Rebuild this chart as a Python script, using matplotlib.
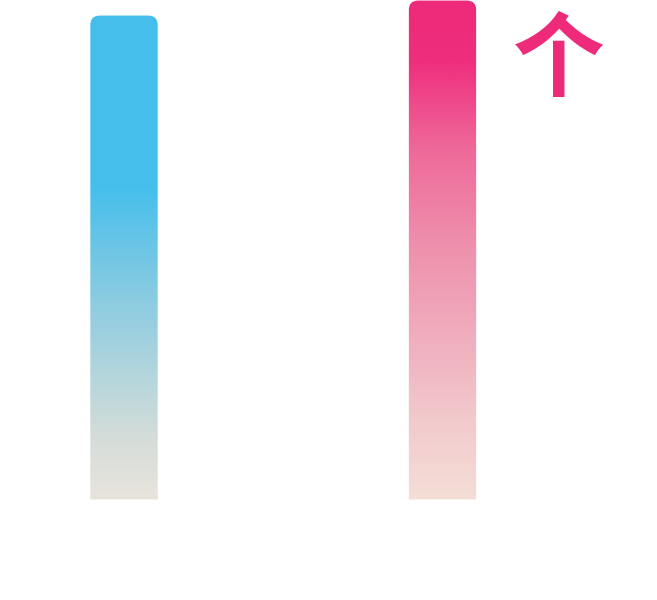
import matplotlib
matplotlib.use("Agg")
import matplotlib.pyplot as plt
import numpy as np
from matplotlib.path import Path
from matplotlib.patches import PathPatch
from matplotlib.colors import LinearSegmentedColormap

categories = ["A", "B"]
values = [97, 100]
unit_label = "个"

# gradient stops (position from bar top, colour)
grad_blue = [(0.0, "#45BEEC"), (0.36, "#47BFEC"), (0.52, "#78C8E4"), (0.63, "#97CEE0"),
             (0.75, "#B5D6DC"), (0.88, "#D6DDD9"), (1.0, "#E8E4DC")]
grad_pink = [(0.0, "#EE2A7B"), (0.12, "#EE2E7D"), (0.3, "#EE6A9A"), (0.5, "#EE92AE"),
             (0.7, "#F0B2C0"), (0.85, "#F2CBCD"), (1.0, "#F4DED6")]
grads = [grad_blue, grad_pink]

fig = plt.figure(figsize=(6.57, 6.0), dpi=100)
ax = fig.add_axes([0, 100 / 600, 1, 500 / 600])
px_per_unit = 318.5
ax.axis("off")

x = np.arange(len(categories))
bars = ax.bar(x, values, width=0.215, color="none", edgecolor="none")

rx = 10 / px_per_unit
ry = 10 / 5.0
for bar, stops in zip(bars, grads):
    x0, y0 = bar.get_x(), bar.get_y()
    w, h = bar.get_width(), bar.get_height()
    x1, y1 = x0 + w, y0 + h
    verts = [(x0, y0), (x0, y1 - ry), (x0, y1), (x0 + rx, y1),
             (x1 - rx, y1), (x1, y1), (x1, y1 - ry), (x1, y0), (x0, y0)]
    codes = [Path.MOVETO, Path.LINETO, Path.CURVE3, Path.CURVE3,
             Path.LINETO, Path.CURVE3, Path.CURVE3, Path.LINETO, Path.CLOSEPOLY]
    patch = PathPatch(Path(verts, codes), facecolor="none", edgecolor="#FFFFFF", lw=0.8, zorder=3)
    ax.add_patch(patch)
    cmap = LinearSegmentedColormap.from_list("g", stops)
    grad = np.linspace(0, 1, 256).reshape(-1, 1)
    im = ax.imshow(grad, cmap=cmap, extent=[x0, x1, y0, y1], aspect="auto",
                   origin="upper", zorder=2, interpolation="bilinear")
    im.set_clip_path(patch)

ax.set_xlim(-124 / px_per_unit, (657 - 124) / px_per_unit)
ax.set_ylim(0, 100)

fig.text(559 / 657, 1 - 62 / 600, unit_label, fontsize=66, color="#EE2A7B",
         fontweight="bold", family=["Noto Sans CJK SC", "DejaVu Sans"],
         ha="center", va="center")

fig.savefig("out.png", dpi=100, facecolor="white")
